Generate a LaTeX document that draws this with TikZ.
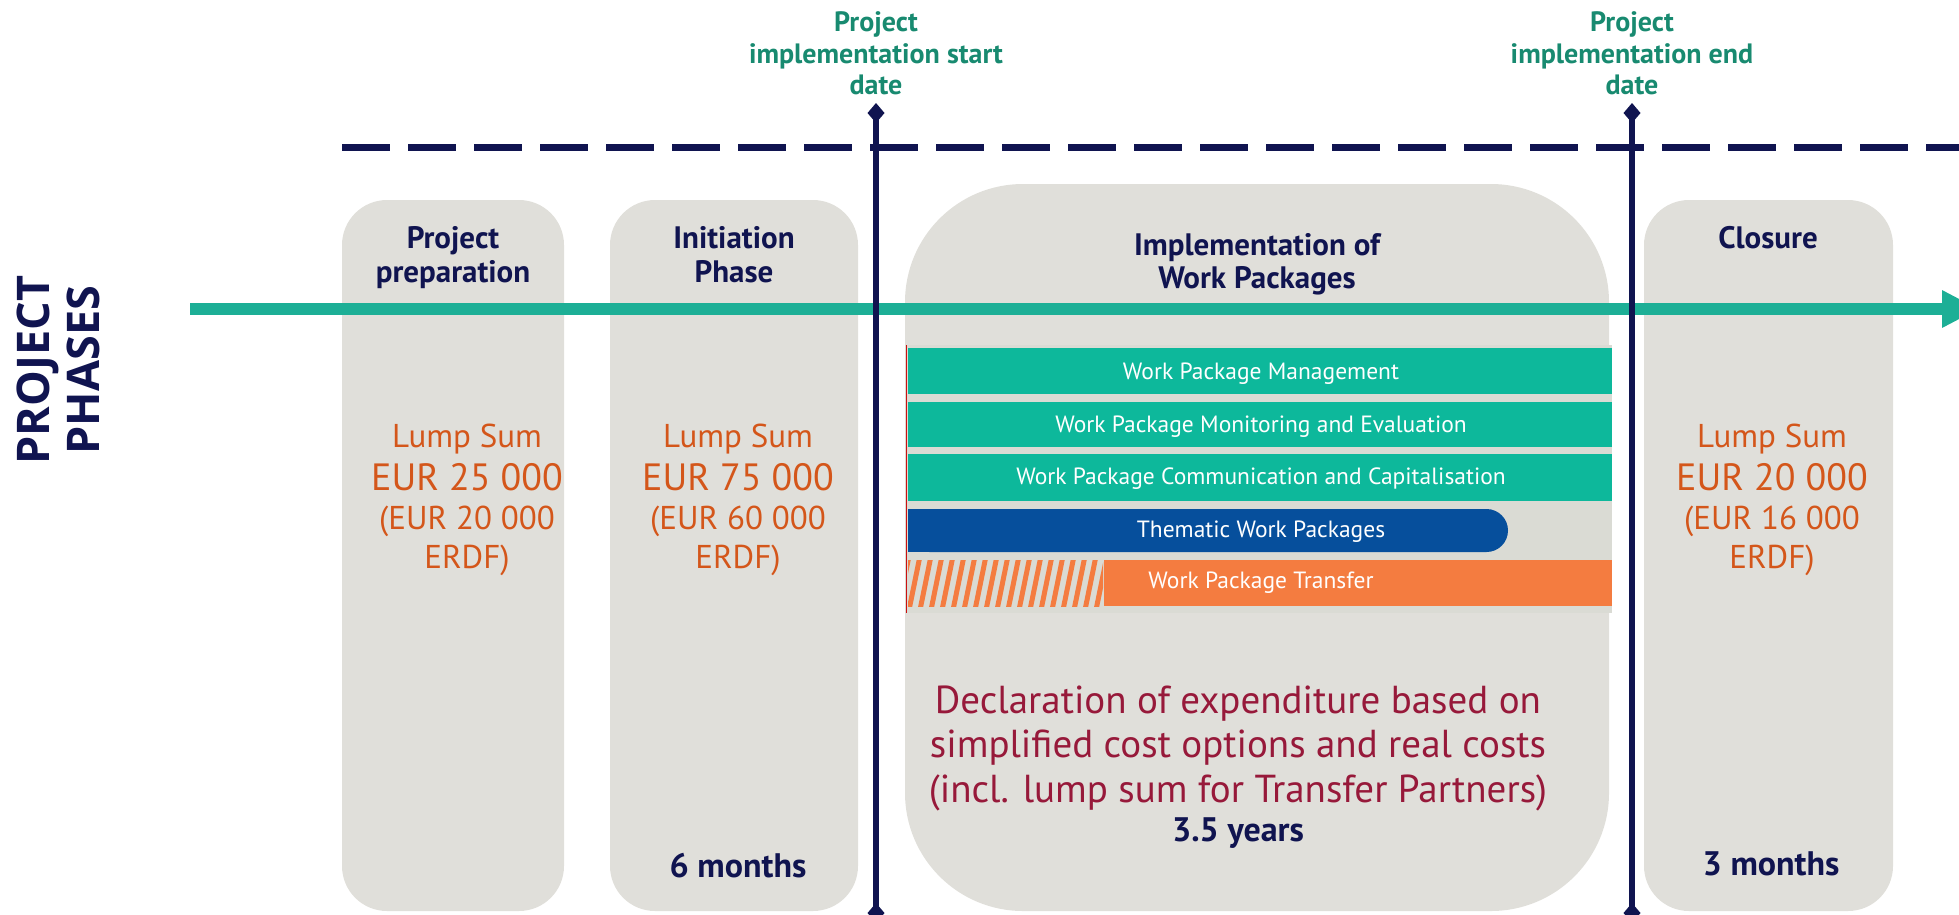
\documentclass[tikz,border=0pt]{standalone}
\usepackage{fontspec}
\setmainfont{PT Sans}
\newfontfamily\phasefont{Open Sans}
\usetikzlibrary{arrows.meta}
\definecolor{navy}{HTML}{101450}
\definecolor{boxgrey}{HTML}{E0DFDA}
\definecolor{panelgrey}{HTML}{DADBD4}
\definecolor{arrowteal}{HTML}{1DAF96}
\definecolor{barteal}{HTML}{0DB89B}
\definecolor{barblue}{HTML}{064F9C}
\definecolor{barorange}{HTML}{F47C40}
\definecolor{sumorange}{HTML}{D4561A}
\definecolor{declred}{HTML}{97193A}
\definecolor{labelgreen}{HTML}{188A70}
\definecolor{panelred}{HTML}{CC1010}
\tikzset{
  phasebox/.style={fill=boxgrey, draw=none, rounded corners=45pt, inner sep=0pt},
  bigbox/.style={fill=boxgrey, draw=none, rounded corners=118pt, inner sep=0pt},
  datelabel/.style={text=labelgreen, font=\bfseries\fontsize{28}{33}\selectfont, align=center, inner sep=0pt},
  phasetitle/.style={text=navy, font=\bfseries\fontsize{31}{34}\selectfont, align=center, inner sep=0pt, anchor=base},
  sumsmall/.style={text=sumorange, font=\fontsize{33}{36}\selectfont, inner sep=0pt, anchor=base},
  sumbig/.style={text=sumorange, font=\fontsize{38}{40}\selectfont, inner sep=0pt, anchor=base},
  duration/.style={text=navy, font=\bfseries\fontsize{34}{36}\selectfont, inner sep=0pt, anchor=base},
  decltext/.style={text=declred, font=\fontsize{39}{44}\selectfont, inner sep=0pt, anchor=base},
  bartext/.style={text=white, font=\fontsize{23.5}{26}\selectfont, inner sep=0pt, anchor=base},
  dateline/.style={draw=navy, line width=6pt, {Diamond[length=20pt,width=17pt]}-{Diamond[length=20pt,width=17pt]}},
  timeline/.style={draw=arrowteal, line width=12pt, -{Triangle[length=37pt,width=35pt]}},
  phaseline/.style={draw=navy, line width=7pt, dash pattern=on 48pt off 18pt},
  sidelabel/.style={text=navy, font=\phasefont\bfseries\fontsize{45}{50}\selectfont, rotate=90, inner sep=0pt, anchor=base},
}
\begin{document}
\begin{tikzpicture}[x=1pt,y=-1pt]
\useasboundingbox (0,0) rectangle (1959,914);
% phase boxes
\node[phasebox, minimum width=222pt, minimum height=711pt] (prep) at (453,555.5) {};
\node[phasebox, minimum width=248pt, minimum height=711pt] (init) at (734,555.5) {};
\node[bigbox, minimum width=704pt, minimum height=727pt] (impl) at (1257,547.5) {};
\node[phasebox, minimum width=249pt, minimum height=711pt] (clos) at (1768.5,555.5) {};
% dashed line
\coordinate (dashA) at (342,147);
\coordinate (dashB) at (1959,147);
\draw[phaseline] (dashA) -- (dashB);
% work package panel
\fill[panelgrey] (905,345) rectangle (1612,613);
\fill[barteal] (908,348) rectangle (1612,394);
\fill[barteal] (908,402) rectangle (1612,447);
\fill[barteal] (908,454) rectangle (1612,501);
\fill[barblue, rounded corners=21.5pt] (908,509) rectangle (1508,552);
\fill[barblue] (908,509) rectangle (960,552);
\fill[barorange] (1104,560) rectangle (1612,606);
\begin{scope}
  \clip (908,560) rectangle (1103,606);
  \foreach \i in {0,...,19} {
    \draw[barorange, line width=5pt] ({898+\i*11},610) -- ({909+\i*11},556);
  }
\end{scope}
\draw[panelred, line width=1.5pt] (906.5,345) -- (906.5,613);
\node[bartext] (wpm) at (1261,379) {Work Package Management};
\node[bartext] (wpme) at (1261,432) {Work Package Monitoring and Evaluation};
\node[bartext] (wpcc) at (1261,484) {Work Package Communication and Capitalisation};
\node[bartext] (wpt) at (1261,537) {Thematic Work Packages};
\node[bartext] (wptr) at (1261,588) {Work Package Transfer};
% timeline arrow
\coordinate (tlA) at (190,309);
\coordinate (tlB) at (1979,309);
\draw[timeline] (tlA) -- (tlB);
% date lines
\coordinate (sTop) at (876,103);
\coordinate (sBot) at (876,923);
\coordinate (eTop) at (1632,103);
\coordinate (eBot) at (1632,923);
\draw[dateline] (sTop) -- (sBot);
\draw[dateline] (eTop) -- (eBot);
% date labels
\node[datelabel, anchor=base] (sl1) at (876,31) {Project};
\node[datelabel, anchor=base] (sl2) at (876,63) {implementation start};
\node[datelabel, anchor=base] (sl3) at (876,94) {date};
\node[datelabel, anchor=base] (el1) at (1632,31) {Project};
\node[datelabel, anchor=base] (el2) at (1632,63) {implementation end};
\node[datelabel, anchor=base] (el3) at (1632,94) {date};
% side label
\node[sidelabel] (sideA) at (49,370) {PROJECT};
\node[sidelabel] (sideB) at (99,370) {PHASES};
% titles
\node[phasetitle] (t1a) at (453,248) {Project};
\node[phasetitle] (t1b) at (453,282) {preparation};
\node[phasetitle] (t2a) at (734,248) {Initiation};
\node[phasetitle] (t2b) at (734,282) {Phase};
\node[phasetitle] (t3a) at (1257,255) {Implementation of};
\node[phasetitle] (t3b) at (1257,288) {Work Packages};
\node[phasetitle] (t4a) at (1768,248) {Closure};
% lump sums
\node[sumsmall] (p1) at (467,447) {Lump Sum};
\node[sumbig]   (p2) at (467,490) {EUR 25 000};
\node[sumsmall] (p3) at (467,529) {(EUR 20 000};
\node[sumsmall] (p4) at (467,568) {ERDF)};
\node[sumsmall] (i1) at (738,447) {Lump Sum};
\node[sumbig]   (i2) at (738,490) {EUR 75 000};
\node[sumsmall] (i3) at (738,529) {(EUR 60 000};
\node[sumsmall] (i4) at (738,568) {ERDF)};
\node[sumsmall] (c1) at (1772,447) {Lump Sum};
\node[sumbig]   (c2) at (1772,490) {EUR 20 000};
\node[sumsmall] (c3) at (1772,529) {(EUR 16 000};
\node[sumsmall] (c4) at (1772,568) {ERDF)};
% declaration
\node[decltext] (d1) at (1238,713) {Declaration of expenditure based on};
\node[decltext] (d2) at (1238,757) {simplified cost options and real costs};
\node[decltext] (d3) at (1238,802) {(incl. lump sum for Transfer Partners)};
% durations
\node[duration] (dur2) at (738,877) {6 months};
\node[duration] (dur3) at (1238,841) {3.5 years};
\node[duration] (dur4) at (1771,875) {3 months};
\end{tikzpicture}
\end{document}
